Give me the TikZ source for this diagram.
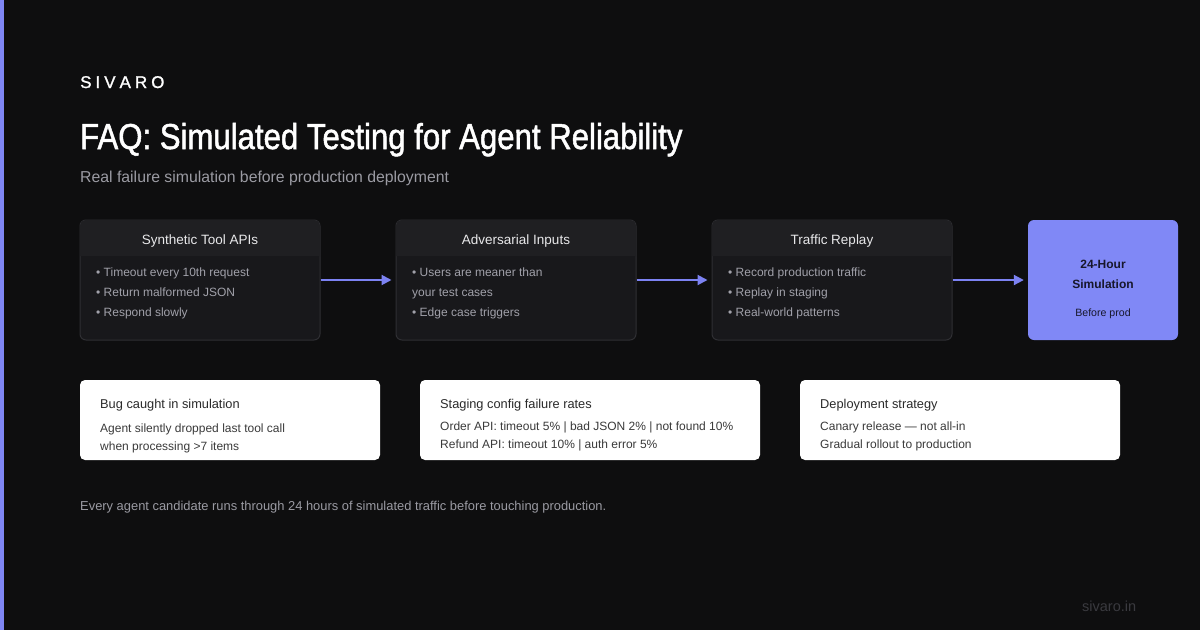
\documentclass[tikz,border=0pt]{standalone}
\usepackage{fontspec}
\setmainfont{Liberation Sans}
\newfontfamily\titlefont{Liberation Sans}[FakeBold=1.2]
\newfontfamily\bigtitlefont{Liberation Sans}[FakeBold=1.4, FakeStretch=0.865]
\usetikzlibrary{arrows.meta}
\definecolor{bg}{HTML}{0E0E0F}
\definecolor{accent}{HTML}{7F86F4}
\definecolor{boxbody}{HTML}{18181B}
\definecolor{boxhead}{HTML}{1F1F22}
\definecolor{boxline}{HTML}{2F2F33}
\definecolor{headtxt}{HTML}{E8E8EA}
\definecolor{bultxt}{HTML}{A1A1AA}
\definecolor{arrowc}{HTML}{7C82F2}
\definecolor{simfill}{HTML}{8088F6}
\definecolor{simtxt}{HTML}{17172B}
\definecolor{cardtitle}{HTML}{2A2A2A}
\definecolor{cardtxt}{HTML}{3A3A3A}
\definecolor{subtxt}{HTML}{9B9BA3}
\definecolor{foottxt}{HTML}{9A9AA2}
\definecolor{urltxt}{HTML}{3A3A3F}
\tikzset{
  stagebox/.style={draw=boxline, line width=1pt, fill=boxbody, rounded corners=6pt, minimum width=240pt, minimum height=120pt, inner sep=0pt},
  simbox/.style={fill=simfill, rounded corners=6pt, minimum width=150pt, minimum height=120pt, inner sep=0pt},
  card/.style={fill=white, rounded corners=5pt, inner sep=0pt, minimum height=80pt},
  headlbl/.style={text=headtxt, font=\fontsize{13.5}{16}\selectfont, anchor=base},
  bullbl/.style={text=bultxt, font=\fontsize{12}{14}\selectfont, anchor=base west, inner sep=0pt},
  cardttl/.style={text=cardtitle, font=\fontsize{12.8}{16}\selectfont, anchor=base west, inner sep=0pt},
  cardlbl/.style={text=cardtxt, font=\fontsize{12}{14}\selectfont, anchor=base west, inner sep=0pt},
  flow/.style={draw=arrowc, line width=2pt, -{Triangle[length=10pt,width=10pt]}},
}
\begin{document}
\begin{tikzpicture}[x=1pt,y=-1pt]
\fill[bg] (0,0) rectangle (1200,630);
\useasboundingbox (0,0) rectangle (1200,630);
\fill[accent] (0,0) rectangle (4,630);
% titles
\node[anchor=base west, inner sep=0pt, text=white, font=\titlefont\fontsize{17}{20}\selectfont] (brand) at (80,88) {S\hspace{4pt}I\hspace{4pt}V\hspace{4pt}A\hspace{4pt}R\hspace{4pt}O};
\node[anchor=base west, inner sep=0pt, text=white, font=\bigtitlefont\fontsize{36}{40}\selectfont] (title) at (80,149) {FAQ: Simulated Testing for Agent Reliability};
\node[anchor=base west, inner sep=0pt, text=subtxt, font=\fontsize{15.8}{18}\selectfont] (subtitle) at (80,182) {Real failure simulation before production deployment};
% stage boxes
\foreach \n/\x in {b1/200, b2/516, b3/832}{
  \node[stagebox] (\n) at (\x,280) {};
  \fill[boxhead] ([xshift=0.5pt]\n.west |- 0,256) [rounded corners=5.5pt] -- ([xshift=0.5pt,yshift=-0.5pt]\n.north west) -- ([xshift=-0.5pt,yshift=-0.5pt]\n.north east) [sharp corners] -- ([xshift=-0.5pt]\n.east |- 0,256) -- cycle;
}
\node[headlbl] (h1) at (200,244) {Synthetic Tool APIs};
\node[headlbl] (h2) at (516,244) {Adversarial Inputs};
\node[headlbl] (h3) at (832,244) {Traffic Replay};
\node[bullbl] (t11) at (96,276) {• Timeout every 10th request};
\node[bullbl] (t12) at (96,296) {• Return malformed JSON};
\node[bullbl] (t13) at (96,316) {• Respond slowly};
\node[bullbl] (t21) at (412,276) {• Users are meaner than};
\node[bullbl] (t22) at (412,296) {your test cases};
\node[bullbl] (t23) at (412,316) {• Edge case triggers};
\node[bullbl] (t31) at (728,276) {• Record production traffic};
\node[bullbl] (t32) at (728,296) {• Replay in staging};
\node[bullbl] (t33) at (728,316) {• Real-world patterns};
\node[simbox] (b4) at (1103,280) {};
\node[anchor=base, text=simtxt, font=\bfseries\fontsize{12}{16}\selectfont, inner sep=0pt] (s1) at (1103,268) {24-Hour};
\node[anchor=base, text=simtxt, font=\bfseries\fontsize{12}{16}\selectfont, inner sep=0pt] (s2) at (1103,288) {Simulation};
\node[anchor=base, text=simtxt, font=\fontsize{10.6}{14}\selectfont, inner sep=0pt] (s3) at (1103,316) {Before prod};
% arrows
\draw[flow, shorten >=4pt] (b1.east) -- (b2.west);
\draw[flow, shorten >=4pt] (b2.east) -- (b3.west);
\draw[flow, shorten >=4pt] (b3.east) -- (b4.west);
% cards
\node[card, minimum width=300pt] (c1) at (230,420) {};
\node[card, minimum width=340pt] (c2) at (590,420) {};
\node[card, minimum width=320pt] (c3) at (960,420) {};
\node[cardttl] (c1t) at (100,408) {Bug caught in simulation};
\node[cardlbl] (c1a) at (100,432) {Agent silently dropped last tool call};
\node[cardlbl] (c1b) at (100,450) {when processing >7 items};
\node[cardttl] (c2t) at (440,408) {Staging config failure rates};
\node[cardlbl] (c2a) at (440,430) {Order API: timeout 5\% | bad JSON 2\% | not found 10\%};
\node[cardlbl] (c2b) at (440,448) {Refund API: timeout 10\% | auth error 5\%};
\node[cardttl] (c3t) at (820,408) {Deployment strategy};
\node[cardlbl] (c3a) at (820,430) {Canary release — not all-in};
\node[cardlbl] (c3b) at (820,448) {Gradual rollout to production};
% footer
\node[anchor=base west, inner sep=0pt, text=foottxt, font=\fontsize{12.9}{15}\selectfont] (foot) at (80,510) {Every agent candidate runs through 24 hours of simulated traffic before touching production.};
\node[anchor=base west, inner sep=0pt, text=urltxt, font=\fontsize{14.5}{16}\selectfont] (url) at (1082,611) {sivaro.in};
\end{tikzpicture}
\end{document}
